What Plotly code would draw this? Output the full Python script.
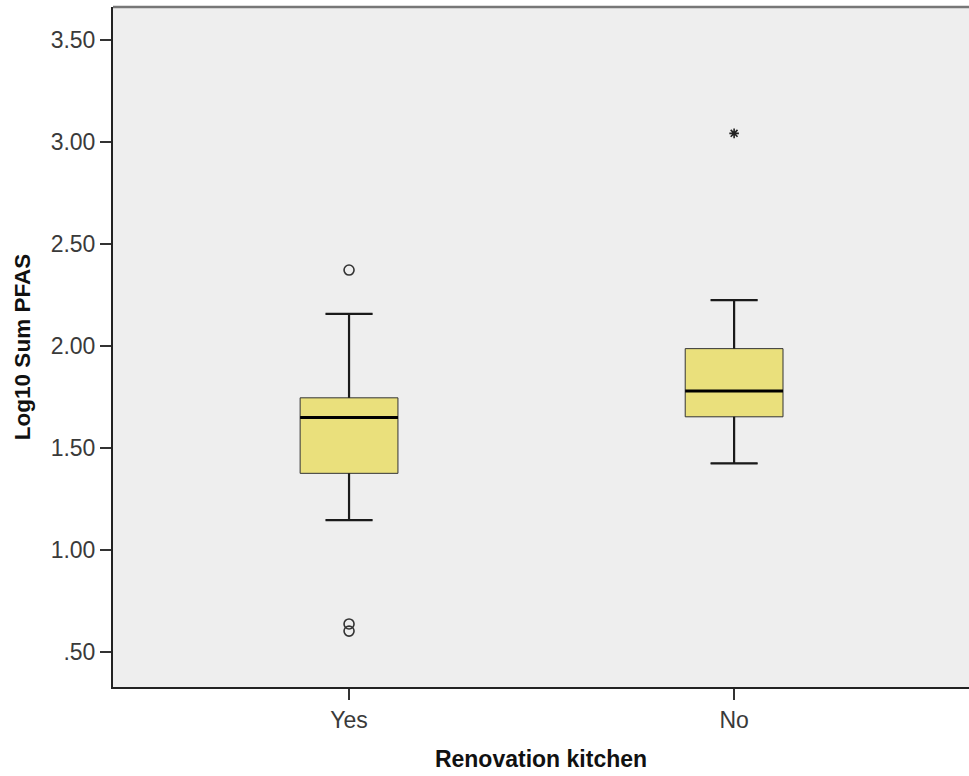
import plotly.graph_objects as go

# Group labels and their axis positions
groups = ["Yes", "No"]
positions = [0, 1]

# Five-number summaries of Log10 Sum PFAS per group
q1 = [1.377, 1.654]
median = [1.651, 1.780]
q3 = [1.747, 1.988]
lower_fence = [1.148, 1.426]
upper_fence = [2.158, 2.226]

# Outliers (circles) and extreme values (stars)
outlier_x = [0, 0, 0]
outlier_y = [2.373, 0.639, 0.604]
extreme_x = [1]
extreme_y = [3.043]

y_ticks = [0.5, 1.0, 1.5, 2.0, 2.5, 3.0, 3.5]
y_tick_text = [".50", "1.00", "1.50", "2.00", "2.50", "3.00", "3.50"]

BOX_W = 0.254
CAP_W = 0.122
FILL = "#EAE07C"
INK = "#1a1a1a"
FONT = "Liberation Sans, Arial, sans-serif"

fig = go.Figure()

fig.add_trace(go.Box(
    x=positions, q1=q1, median=median, q3=q3,
    lowerfence=lower_fence, upperfence=upper_fence,
    width=BOX_W, whiskerwidth=CAP_W / BOX_W,
    fillcolor=FILL, line=dict(color="#333333", width=1),
    boxpoints=False, showlegend=False, hoverinfo="skip",
))

# Whiskers, caps and medians drawn heavier on top of the boxes
for x, lo, a, b, hi, m in zip(positions, lower_fence, q1, q3, upper_fence, median):
    xs = [x, x, None, x, x, None,
          x - CAP_W / 2, x + CAP_W / 2, None, x - CAP_W / 2, x + CAP_W / 2]
    ys = [lo, a, None, b, hi, None, lo, lo, None, hi, hi]
    fig.add_trace(go.Scatter(x=xs, y=ys, mode="lines",
                             line=dict(color=INK, width=2.2),
                             showlegend=False, hoverinfo="skip"))
    fig.add_trace(go.Scatter(x=[x - BOX_W / 2, x + BOX_W / 2], y=[m, m],
                             mode="lines", line=dict(color="#000000", width=3),
                             showlegend=False, hoverinfo="skip"))

fig.add_trace(go.Scatter(
    x=outlier_x, y=outlier_y, mode="markers",
    marker=dict(symbol="circle-open", size=10, color="#333333",
                line=dict(width=1.6, color="#333333")),
    showlegend=False,
))
fig.add_trace(go.Scatter(
    x=extreme_x, y=extreme_y, mode="markers",
    marker=dict(symbol="asterisk-open", size=8, color="#222222",
                line=dict(width=1.6, color="#222222")),
    showlegend=False,
))

fig.update_layout(
    width=969, height=776,
    margin=dict(l=113, r=0, t=7, b=89),
    paper_bgcolor="white",
    plot_bgcolor="#EEEEEE",
    font=dict(family=FONT, color="#333333"),
    xaxis=dict(
        range=[-0.613, 1.61],
        tickmode="array", tickvals=positions, ticktext=groups,
        ticks="outside", ticklen=11, tickwidth=1.5, tickcolor="#333333",
        tickfont=dict(size=23, color="#3a3a3a"),
        showline=True, linecolor="#222222", linewidth=2,
        showgrid=False, zeroline=False,
        title=dict(text="<b>Renovation kitchen</b>",
                   font=dict(size=23, color="#111111"), standoff=19),
    ),
    yaxis=dict(
        range=[0.330, 3.662],
        tickmode="array", tickvals=y_ticks, ticktext=y_tick_text,
        ticks="outside", ticklen=11, tickwidth=1.5, tickcolor="#333333",
        tickfont=dict(size=23, color="#3a3a3a"),
        showline=True, linecolor="#222222", linewidth=2,
        showgrid=False, zeroline=False,
        title=dict(text="<b>Log10 Sum PFAS</b>",
                   font=dict(size=22.5, color="#111111"), standoff=14),
    ),
    shapes=[dict(type="line", xref="paper", yref="paper",
                 x0=0, x1=1, y0=1, y1=1,
                 line=dict(color="#777777", width=2.5))],
)

fig.write_html("out.html")
